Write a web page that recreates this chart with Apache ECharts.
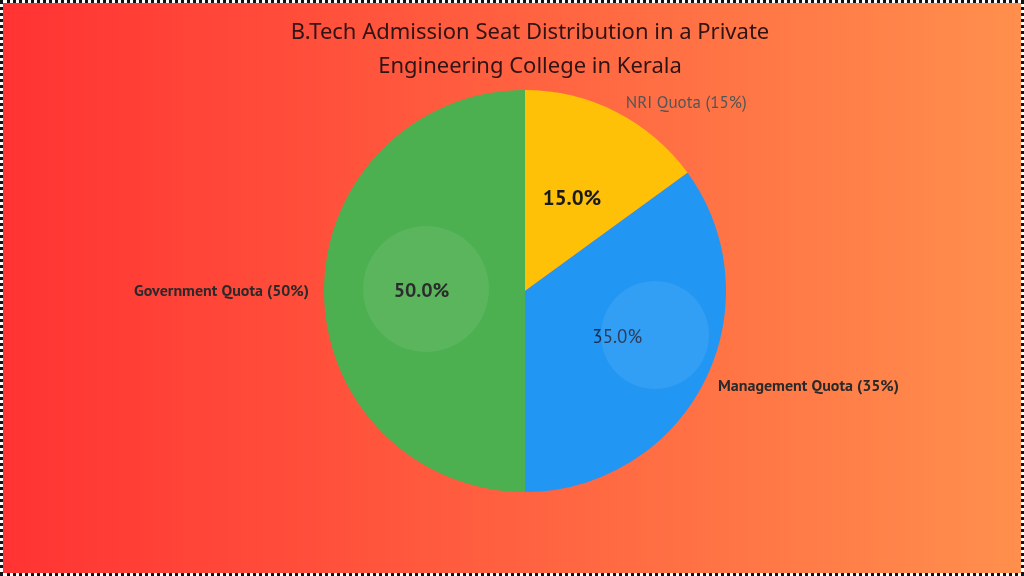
<!DOCTYPE html>
<html><head><meta charset="utf-8">
<script src="https://cdn.jsdelivr.net/npm/echarts@6/dist/echarts.min.js"></script>
<style>html,body{margin:0;padding:0}#c{width:1024px;height:576px;box-sizing:border-box;border:3px dotted #111}</style>
</head><body><div id="c"></div>
<script>
const categories = ['NRI Quota (15%)', 'Management Quota (35%)', 'Government Quota (50%)'];
const values = [15, 35, 50];
const colors = ['#FFC107', '#2196F3', '#4CAF50'];
const outerStyles = [
  {color:'#555', fontWeight:'normal', fontSize:17},
  {color:'#2a2a2a', fontWeight:'bold', fontSize:16},
  {color:'#2a2a2a', fontWeight:'bold', fontSize:16}
];
const innerStyles = [
  {color:'#1a1a1a', fontWeight:'bold', fontSize:21},
  {color:'#1d2b4a', fontWeight:'normal', fontSize:19},
  {color:'#1a1a1a', fontWeight:'bold', fontSize:20}
];
const chart = echarts.init(document.getElementById('c'));
chart.setOption({
  backgroundColor: new echarts.graphic.LinearGradient(0,0,1,0,[{offset:0,color:'#ff3333'},{offset:1,color:'#ff8f4d'}]),
  title: {text:'B.Tech Admission Seat Distribution in a Private\nEngineering College in Kerala', left:522, textAlign:'center', top:8,
    textStyle:{fontFamily:'Noto Sans', fontWeight:'normal', fontSize:22, color:'#2e1414', lineHeight:34}},
  graphic: [
    {type:'circle', shape:{cx:423, cy:286, r:63}, style:{fill:'rgba(255,255,255,0.08)'}, z:100},
    {type:'circle', shape:{cx:652, cy:332, r:54}, style:{fill:'rgba(255,255,255,0.08)'}, z:100}
  ],
  series: [
    {type:'pie', radius:['0%','201'], center:[522, 288], startAngle:90, clockwise:true, silent:true,
     label:{show:true, position:'inside', fontFamily:'PT Sans, Noto Sans',
       formatter: p => values[p.dataIndex].toFixed(1) + '%'},
     labelLine:{show:false},
     data: categories.map((n,i)=>({name:n, value:values[i], itemStyle:{color:colors[i]}, label:innerStyles[i]}))},
    {type:'pie', radius:['0%','201'], center:[522, 288], startAngle:90, clockwise:true, silent:true, z:3,
     itemStyle:{color:'transparent'},
     label:{show:true, position:'outside', formatter:'{b}', fontFamily:'PT Sans, Noto Sans'},
     labelLine:{show:false, length:10, length2:0},
     data: categories.map((n,i)=>({name:n, value:values[i], label:outerStyles[i]}))}
  ]
});
</script></body></html>
